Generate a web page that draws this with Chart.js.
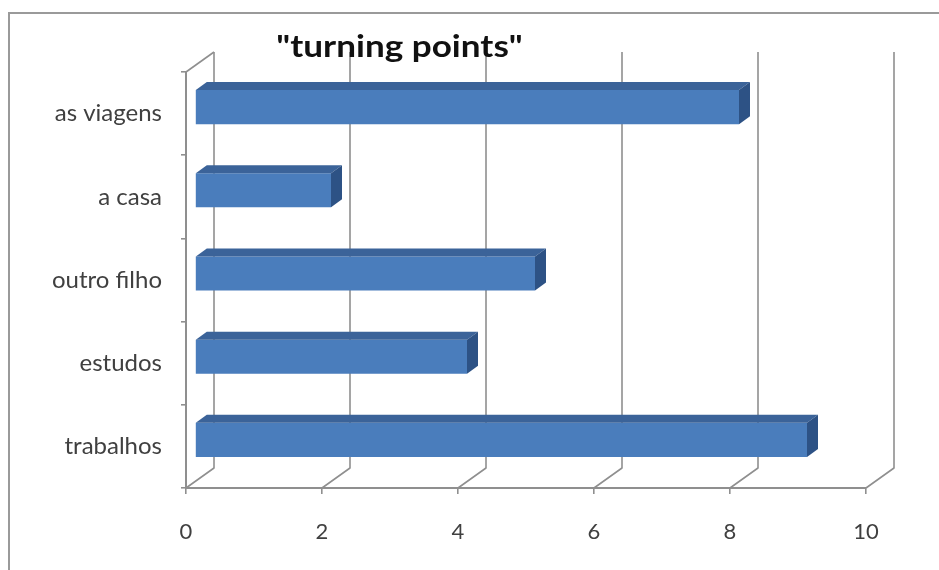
<!DOCTYPE html>
<html>
<head>
<meta charset="utf-8">
<script src="https://cdn.jsdelivr.net/npm/chart.js@4.4.1/dist/chart.umd.min.js"></script>
<style>
  html, body { margin: 0; padding: 0; background: #ffffff; overflow: hidden; }
  #frame { position: absolute; left: 8px; top: 12px; width: 1000px; height: 700px;
           border-top: 2px solid #9a9a9a; border-left: 2px solid #9a9a9a; }
  #wrap { position: absolute; left: 0; top: 0; width: 939px; height: 570px; }
</style>
</head>
<body>
<div id="frame"></div>
<div id="wrap"><canvas id="c" width="939" height="570"></canvas></div>
<script>
// ---- data ----
const categories = ['as viagens', 'a casa', 'outro filho', 'estudos', 'trabalhos'];
const values = [8, 2, 5, 4, 9];
const xTickValues = [0, 2, 4, 6, 8, 10];
const chartTitle = '"turning points"';

// ---- 3D look settings ----
const DEPTH = { dx: 28, dy: -20 };     // full depth of the plot box
const BAR_OFF = { dx: 9, dy: -6.5 };   // front of bars inside the box
const BAR_DEPTH = { dx: 11, dy: -8 };  // depth of each bar
const GRID_COLOR = '#8f8f8f';

const threeD = {
  id: 'threeD',
  beforeDatasetsDraw(chart) {
    const { ctx, chartArea: a, scales: { x } } = chart;
    ctx.save();
    ctx.strokeStyle = GRID_COLOR;
    ctx.lineWidth = 1.6;
    ctx.lineJoin = 'round';
    // back-wall gridlines with floor connectors
    xTickValues.forEach(v => {
      const px = x.getPixelForValue(v);
      ctx.beginPath();
      ctx.moveTo(px, a.bottom);
      ctx.lineTo(px + DEPTH.dx, a.bottom + DEPTH.dy);
      ctx.lineTo(px + DEPTH.dx, a.top + DEPTH.dy);
      ctx.stroke();
    });
    // left wall top edge
    ctx.beginPath();
    ctx.moveTo(a.left, a.top);
    ctx.lineTo(a.left + DEPTH.dx, a.top + DEPTH.dy);
    ctx.stroke();
    ctx.restore();
    // shift bars into the box
    ctx.save();
    ctx.translate(BAR_OFF.dx, BAR_OFF.dy);
  },
  afterDatasetsDraw(chart) {
    const { ctx } = chart;
    ctx.restore();
    const meta = chart.getDatasetMeta(0);
    meta.data.forEach(bar => {
      const p = bar.getProps(['x', 'y', 'base', 'height'], true);
      const x0 = p.base + BAR_OFF.dx, x1 = p.x + BAR_OFF.dx;
      const t = p.y - p.height / 2 + BAR_OFF.dy, b = p.y + p.height / 2 + BAR_OFF.dy;
      // top face
      ctx.beginPath();
      ctx.moveTo(x0, t);
      ctx.lineTo(x0 + BAR_DEPTH.dx, t + BAR_DEPTH.dy);
      ctx.lineTo(x1 + BAR_DEPTH.dx, t + BAR_DEPTH.dy);
      ctx.lineTo(x1, t);
      ctx.closePath();
      ctx.fillStyle = '#3b6399';
      ctx.fill();
      // side face
      ctx.beginPath();
      ctx.moveTo(x1, t);
      ctx.lineTo(x1 + BAR_DEPTH.dx, t + BAR_DEPTH.dy);
      ctx.lineTo(x1 + BAR_DEPTH.dx, b + BAR_DEPTH.dy);
      ctx.lineTo(x1, b);
      ctx.closePath();
      ctx.fillStyle = '#2d5285';
      ctx.fill();
    });
  },
  afterDraw(chart) {
    const { ctx, chartArea: a } = chart;
    ctx.save();
    ctx.font = 'bold 30px Lato';
    ctx.fillStyle = '#111111';
    ctx.textAlign = 'center';
    ctx.textBaseline = 'alphabetic';
    const cx = a.left + (a.right - a.left) * 0.314;
    ctx.translate(cx, a.top - 15);
    ctx.scale(1.17, 1);
    ctx.fillText(chartTitle, 0, 0);
    ctx.restore();
  }
};

new Chart(document.getElementById('c'), {
  type: 'bar',
  data: {
    labels: categories,
    datasets: [{
      data: values,
      backgroundColor: '#4a7dbc',
      borderWidth: 0,
      barPercentage: 0.41,
      categoryPercentage: 1.0
    }]
  },
  options: {
    indexAxis: 'y',
    responsive: false,
    animation: false,
    events: [],
    layout: { padding: { left: 0, right: 73, top: 72, bottom: 0 } },
    plugins: { legend: { display: false }, title: { display: false }, tooltip: { enabled: false } },
    scales: {
      x: {
        min: 0, max: 10,
        afterFit(s) { s.height = 82; },
        afterBuildTicks(s) { s.ticks = xTickValues.map(v => ({ value: v })); },
        grid: { display: true, drawOnChartArea: false, drawTicks: true, tickLength: 6, color: GRID_COLOR, lineWidth: 1.6 },
        border: { display: true, color: GRID_COLOR, width: 2 },
        ticks: { padding: 25, color: '#404040', font: { family: 'Lato', size: 22 } }
      },
      y: {
        afterFit(s) { s.width = 186; },
        grid: { display: true, drawOnChartArea: false, drawTicks: true, tickLength: 5, color: GRID_COLOR, lineWidth: 1.6, offset: true },
        border: { display: true, color: GRID_COLOR, width: 2 },
        ticks: { padding: 19, color: '#404040', font: { family: 'Lato', size: 24 } }
      }
    }
  },
  plugins: [threeD]
});
</script>
</body>
</html>
